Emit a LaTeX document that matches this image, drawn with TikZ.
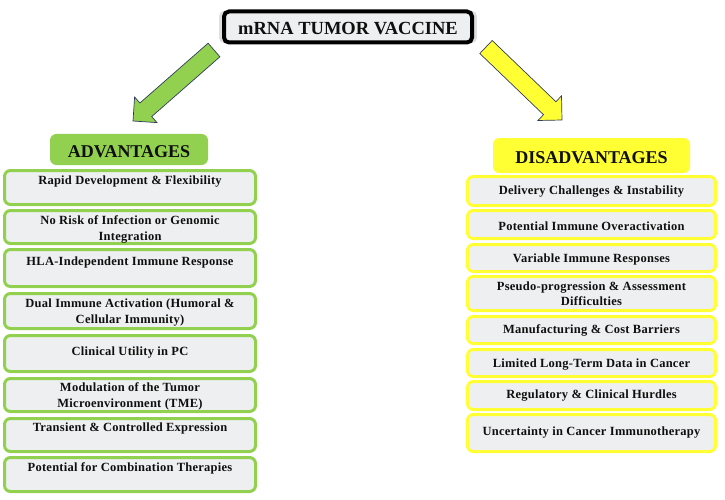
\documentclass[tikz,border=0pt]{standalone}
\usepackage{fontspec}
\setmainfont{Liberation Serif}
\newfontfamily\bodyfont[LetterSpace=2]{Liberation Serif}
\usetikzlibrary{shadows}
\definecolor{vgreen}{RGB}{146,208,80}
\definecolor{vyellow}{RGB}{255,255,51}
\definecolor{boxfill}{RGB}{238,239,240}
\definecolor{arrline}{RGB}{50,60,90}
\definecolor{txt}{RGB}{15,15,15}
\tikzset{
  itembox/.style={draw=#1, line width=3pt, fill=boxfill, rounded corners=6pt, inner sep=0pt},
  headbox/.style={fill=#1, draw=#1, line width=1pt, rounded corners=6pt, inner sep=0pt},
  headtxt/.style={text=txt, inner sep=0pt, font=\bfseries\fontsize{18}{20}\selectfont},
  itemtxt/.style={text=txt, align=center, inner sep=0pt,
    font=\bodyfont\bfseries\fontsize{12.5}{15.5}\selectfont},
  blockarrow/.style={fill=#1, draw=arrline, line width=0.7pt, line join=miter},
}
\begin{document}
\begin{tikzpicture}[x=1pt,y=-1pt]
\useasboundingbox (0,0) rectangle (725,500);
% title
\node[draw=black, line width=4pt, fill=boxfill, rounded corners=5pt,
  minimum width=248pt, minimum height=31pt, inner sep=0pt,
  drop shadow={shadow xshift=0pt, shadow yshift=0pt, opacity=.25, fill=gray, shadow scale=1.04}] (title) at (348,27) {};
\node[text=txt, inner sep=0pt, font=\bfseries\fontsize{18.5}{20}\selectfont] (titletxt) at (348,29) {mRNA TUMOR VACCINE};
% arrows
\coordinate (la1) at (208.1,43.2);
\coordinate (la2) at (139.9,103.0);
\coordinate (la3) at (134.6,97.0);
\coordinate (latip) at (133,121);
\coordinate (la5) at (157.0,122.6);
\coordinate (la6) at (151.7,116.6);
\coordinate (la7) at (219.9,56.8);
\draw[blockarrow=vgreen] (la1) -- (la2) -- (la3) -- (latip) -- (la5) -- (la6) -- (la7) -- cycle;
\coordinate (ra1) at (492.2,40.5);
\coordinate (ra2) at (555.9,101.7);
\coordinate (ra3) at (561.5,95.9);
\coordinate (ratip) at (562,120);
\coordinate (ra5) at (537.9,120.5);
\coordinate (ra6) at (543.5,114.7);
\coordinate (ra7) at (479.8,53.5);
\draw[blockarrow=vyellow] (ra1) -- (ra2) -- (ra3) -- (ratip) -- (ra5) -- (ra6) -- (ra7) -- cycle;
% headers
\node[headbox=vgreen, minimum width=157pt, minimum height=30pt] (advh) at (129,149.5) {};
\node[headtxt] (advt) at (129,152) {ADVANTAGES};
\node[headbox=vyellow, minimum width=196pt, minimum height=34pt] (dish) at (591.5,155.5) {};
\node[headtxt] (dist) at (591.5,157.5) {DISADVANTAGES};
% left items: name, top, bottom, text y, text
\foreach \n/\t/\b/\ty/\s in {
  a1/169/206/182/{Rapid Development \& Flexibility},
  a2/209/245/229.5/{No Risk of Infection or Genomic\\Integration},
  a3/248/288/262/{HLA-Independent Immune Response},
  a4/292/330/312.5/{Dual Immune Activation (Humoral \&\\Cellular Immunity)},
  a5/334/373/353/{Clinical Utility in PC},
  a6/377/413/396.5/{Modulation of the Tumor\\Microenvironment (TME)},
  a7/417/453/428/{Transient \& Controlled Expression},
  a8/456/493/468/{Potential for Combination Therapies}}{
  \node[itembox=vgreen, minimum width=251pt, minimum height={\b-\t-3}] (\n) at (130,{(\t+\b)/2}) {};
  \node[itemtxt] (\n t) at (130,\ty) {\s};
}
% right items
\foreach \n/\t/\b/\ty/\s in {
  d1/175/207/192/{Delivery Challenges \& Instability},
  d2/209/240/226/{Potential Immune Overactivation},
  d3/243/273/259/{Variable Immune Responses},
  d4/275/312/293.5/{Pseudo-progression \& Assessment\\Difficulties},
  d5/315/345/330/{Manufacturing \& Cost Barriers},
  d6/348/378/365/{Limited Long-Term Data in Cancer},
  d7/380/411/396/{Regulatory \& Clinical Hurdles},
  d8/413/453/433/{Uncertainty in Cancer Immunotherapy}}{
  \node[itembox=vyellow, minimum width=248pt, minimum height={\b-\t-3}] (\n) at (591.5,{(\t+\b)/2}) {};
  \node[itemtxt] (\n t) at (591.5,\ty) {\s};
}
\end{tikzpicture}
\end{document}
